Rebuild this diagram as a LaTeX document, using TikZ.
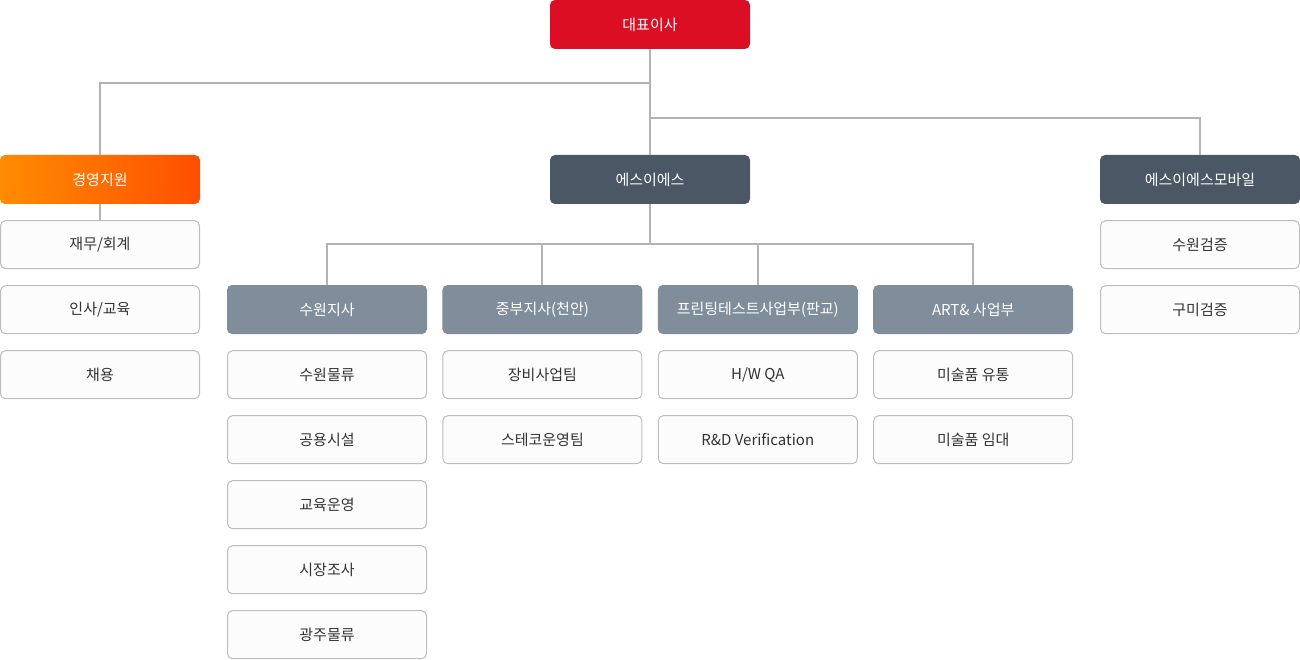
\documentclass[tikz,border=0pt]{standalone}
\usepackage{fontspec}
\setmainfont{Noto Sans CJK KR}
\usepackage{tikz}
\usetikzlibrary{positioning}
\usetikzlibrary{calc}

\definecolor{ceored}{HTML}{DC0E23}
\definecolor{mgmtA}{HTML}{FF8C00}
\definecolor{mgmtB}{HTML}{FF4F00}
\definecolor{slate}{HTML}{4B5764}
\definecolor{branchgray}{HTML}{808D9A}
\definecolor{linegray}{HTML}{B3B3B3}
\definecolor{boxline}{HTML}{BDBDBD}
\definecolor{boxfill}{HTML}{FCFCFC}
\definecolor{textdark}{HTML}{333333}

\begin{document}
\begin{tikzpicture}[x=1pt, y=-1pt,
    node distance=16pt,
    unit/.style={minimum width=200pt, minimum height=49pt, rounded corners=5pt,
        inner sep=0pt, font=\fontsize{15}{17}\selectfont},
    ceo/.style={unit, fill=ceored, text=white},
    mgmt/.style={unit, left color=mgmtA, right color=mgmtB, text=white},
    head/.style={unit, fill=slate, text=white},
    branch/.style={unit, fill=branchgray, text=white},
    team/.style={unit, minimum width=199pt, minimum height=48pt,
        draw=boxline, line width=1pt, fill=boxfill, text=textdark},
    link/.style={draw=linegray, line width=2pt},
    ]
    \useasboundingbox (0,0) rectangle (1300,660);

    \node[ceo] (ceo) at (650,24.5) {대표이사};
    \node[mgmt] (mgmt) at (100,179.5) {경영지원};
    \node[head] (ses) at (650,179.5) {에스이에스};
    \node[head] (mobile) at (1200,179.5) {에스이에스모바일};

    \node[branch] (suwon) at (327,309.5) {수원지사};
    \node[branch, right=15pt of suwon] (jungbu) {중부지사(천안)};
    \node[branch, right=15pt of jungbu] (print) {프린팅테스트사업부(판교)};
    \node[branch, right=15pt of print] (art) {ART\& 사업부};

    \node[team, below=of mgmt] (acct) {재무/회계};
    \node[team, below=of acct] (hr) {인사/교육};
    \node[team, below=of hr] (hire) {채용};

    \node[team, below=of suwon] (sw1) {수원물류};
    \node[team, below=of sw1] (sw2) {공용시설};
    \node[team, below=of sw2] (sw3) {교육운영};
    \node[team, below=of sw3] (sw4) {시장조사};
    \node[team, below=of sw4] (sw5) {광주물류};

    \node[team, below=of jungbu] (jb1) {장비사업팀};
    \node[team, below=of jb1] (jb2) {스테코운영팀};

    \node[team, below=of print] (pr1) {H/W QA};
    \node[team, below=of pr1] (pr2) {R\&D Verification};

    \node[team, below=of art] (art1) {미술품 유통};
    \node[team, below=of art1] (art2) {미술품 임대};

    \node[team, below=of mobile] (mb1) {수원검증};
    \node[team, below=of mb1] (mb2) {구미검증};

    % connectors
    \coordinate (tap) at (650,118);
    \coordinate (bus) at (650,244);
    \draw[link] (ceo.south) -- ++(0,34) -| (mgmt.north);
    \draw[link] (ceo.south) -- (ses.north);
    \draw[link] (tap) -| (mobile.north);
    \draw[link] (mgmt.south) -- (acct.north);
    \draw[link] (ses.south) -- (bus);
    \draw[link] (suwon.north) |- (bus) -| (art.north);
    \foreach \b in {jungbu, print}
        \draw[link] (\b.north) -- (\b.north |- bus);
\end{tikzpicture}
\end{document}
